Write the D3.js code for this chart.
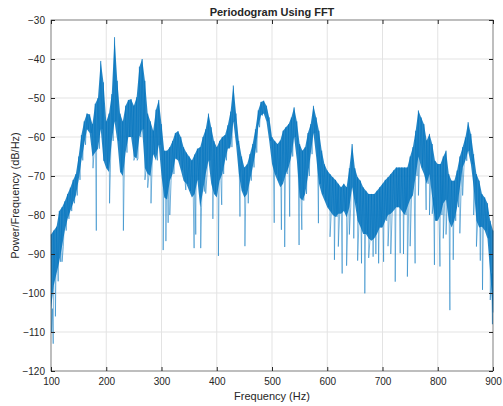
<!DOCTYPE html>
<html>
<head>
<meta charset="utf-8">
<script src="https://cdn.jsdelivr.net/npm/d3@7"></script>
<style>
  body { margin: 0; background: #fff; }
  text { font-family: Helvetica, Arial, "Liberation Sans", sans-serif; fill: #262626; }
  .tick line { stroke: #262626; }
</style>
</head>
<body>
<div id="chart"></div>
<script>
var svgWidth = 503;
var svgHeight = 406;

var margin = { top: 20, right: 10, bottom: 35, left: 51 };
var width = svgWidth - margin.left - margin.right;
var height = svgHeight - margin.top - margin.bottom;

// frequency bins (Hz), every 5 Hz from 100 to 900
var freqStart = 100;
var freqStep = 5;

// upper edge of the dense trace in each bin (dB/Hz)
var hiDb = [
  -85, -84, -83, -79, -78, -76.5, -74.6, -73, -71, -69.5,
  -65, -59.5, -56, -54, -54.2, -56.7, -51.5, -50, -40.5, -46,
  -56, -54, -49, -34.4, -45.6, -54, -56, -52, -50.5, -50.3,
  -52, -49.8, -42, -40, -45.6, -54, -56, -58.4, -53, -50.5,
  -56.7, -63.5, -63.5, -62.6, -61, -59, -58.5, -60, -62.6, -64,
  -65, -66, -64.5, -63, -62.6, -60, -58, -54, -57.5, -61,
  -62.6, -61, -60, -59.5, -57, -53.5, -46.8, -54, -61, -65,
  -67.8, -67, -64.4, -61.8, -58, -53.2, -51, -50.7, -52, -55,
  -60, -61, -61.8, -60.9, -58.4, -57.5, -56.7, -55, -52.4, -56,
  -61.8, -63.5, -62.6, -59, -56.7, -52, -55, -58.4, -63.5, -67,
  -68.6, -69.5, -70.3, -71, -72, -72.9, -72, -72.9, -68, -61.8,
  -68, -70.3, -71.2, -72.9, -73.8, -74.6, -74.6, -74.6, -73.8, -72.9,
  -72, -71, -70.3, -69.5, -68.6, -67.8, -67.8, -67.8, -67.8, -67.8,
  -65, -62.6, -58.4, -53.2, -55, -56.7, -60.9, -59.2, -61.8, -66.1,
  -66.9, -66.9, -65, -63.5, -69.5, -71.2, -71.2, -68.6, -65, -62.6,
  -60.1, -56.2, -59.2, -64.4, -69.5, -71.2, -74.6, -75.5, -77, -81.5,
  -84
];

// lower edge of the dense trace in each bin (dB/Hz)
var loDb = [
  -104, -98, -95, -92, -88, -84, -81, -79, -77, -75,
  -71, -66, -62, -58, -59, -65, -64, -63, -58, -66,
  -68, -69, -61, -56, -61, -69, -70, -64, -60, -60,
  -65, -65.5, -60, -58, -68, -69.5, -70, -64.4, -66, -62,
  -70, -75.5, -76, -71.2, -69.5, -65.5, -66, -68.5, -71.2, -72,
  -73.8, -75.5, -74.6, -71, -78, -74, -69.5, -66, -72, -74.6,
  -75.5, -71.2, -69.5, -66, -63, -62.6, -56, -62, -69.5, -73.8,
  -75.5, -74.6, -71.2, -67.8, -64, -57.5, -54.5, -54, -56, -61,
  -66.9, -69.5, -71.2, -72.9, -72, -69.5, -67.8, -65, -60, -66,
  -75.5, -76.3, -74.6, -70, -64.4, -59, -65.2, -72, -74.6, -76.3,
  -78, -79, -80, -80.5, -79.7, -79.7, -79, -80.6, -78, -72.9,
  -77, -81.5, -83, -84.9, -84.9, -86, -86.6, -86, -84.9, -83.2,
  -83.2, -81.5, -80, -79.7, -78.9, -78, -78, -79, -80, -78,
  -76, -75, -70, -65, -67.8, -69.5, -72, -69.5, -75.5, -81.5,
  -81.5, -80, -77, -76, -81.5, -83.2, -81.5, -78, -73, -67.8,
  -66.1, -63.5, -67, -72.9, -81.5, -83.2, -83, -84, -86, -95,
  -105
];

// single dips below the band
var dipFreq = [101, 104, 108, 113, 120, 176, 182, 195, 206, 231, 250, 256, 270, 275, 281,
  303, 308, 312, 315, 344, 359, 362, 371, 380, 393, 403, 409, 442, 451, 457,
  504, 517, 523, 532, 549, 554, 584, 605, 613, 620, 627, 635, 640, 648, 655, 662, 668, 675,
  683, 688, 693, 702, 710, 715, 723, 732, 738, 745, 750, 759, 765, 779, 785, 790, 794, 804,
  810, 815, 822, 828, 840, 845, 865, 870, 877, 881, 895, 899];
var dipDb = [-110, -113, -106, -97, -92, -68, -84, -66, -77, -84, -66, -66, -71, -73, -77,
  -89, -86.7, -82, -80, -73.6, -88.5, -85, -88.5, -74.5, -81, -90.5, -77.4, -80.4, -88, -77,
  -82, -83.8, -88.2, -80.4, -87.7, -83.8, -82.1, -85.6, -91.5, -88.1, -95, -93, -85, -86, -91.7, -92.4, -100.1, -91,
  -90.7, -90, -92.4, -92, -88, -90, -97.1, -89.8, -90, -95.8, -88, -92.4, -75, -78.7, -80, -79.7, -92.8, -93.2,
  -86, -85, -104.4, -91.5, -84.7, -75, -80, -88.1, -91.7, -99.2, -101.8, -108];

var xTicks = [100, 200, 300, 400, 500, 600, 700, 800, 900];
var yTicks = [-120, -110, -100, -90, -80, -70, -60, -50, -40, -30];

var svg = d3.select("#chart")
  .append("svg")
  .attr("width", svgWidth)
  .attr("height", svgHeight);

var chartGroup = svg.append("g")
  .attr("transform", `translate(${margin.left}, ${margin.top})`);

var xScale = d3.scaleLinear().domain([100, 900]).range([0, width]);
var yScale = d3.scaleLinear().domain([-120, -30]).range([height, 0]);

// grid
chartGroup.append("g").selectAll("line")
  .data(xTicks.slice(1, -1))
  .enter().append("line")
  .attr("x1", d => xScale(d)).attr("x2", d => xScale(d))
  .attr("y1", 0).attr("y2", height)
  .attr("stroke", "#e3e3e3");
chartGroup.append("g").selectAll("line")
  .data(yTicks.slice(1, -1))
  .enter().append("line")
  .attr("y1", d => yScale(d)).attr("y2", d => yScale(d))
  .attr("x1", 0).attr("x2", width)
  .attr("stroke", "#e3e3e3");

var bins = hiDb.map((v, i) => ({ f: freqStart + i * freqStep, hi: v, lo: loDb[i] }));

// dense band
var band = d3.area()
  .x(d => xScale(d.f))
  .y0(d => yScale(d.lo))
  .y1(d => yScale(d.hi));

chartGroup.append("path")
  .datum(bins)
  .attr("fill", "#0072BD")
  .attr("fill-opacity", 0.85)
  .attr("d", band);

// jagged trace: top and bottom of each bin alternately, plus single dips
var points = [];
bins.forEach(function(b, i) {
  points.push([b.f, b.hi]);
  if (i < bins.length - 1) points.push([b.f + freqStep / 2, b.lo]);
  else points.push([b.f, b.lo]);
});
dipFreq.forEach(function(f, i) { points.push([f, dipDb[i]]); });
points.sort((a, b) => a[0] - b[0]);

var line = d3.line()
  .x(d => xScale(d[0]))
  .y(d => yScale(d[1]));

chartGroup.append("path")
  .datum(points)
  .attr("fill", "none")
  .attr("stroke", "#0072BD")
  .attr("stroke-opacity", 0.7)
  .attr("stroke-width", 0.7)
  .attr("d", line);

// axes, ticks pointing inward
var bottomAxis = d3.axisBottom(xScale).tickValues(xTicks).tickSize(-4).tickPadding(7);
var leftAxis = d3.axisLeft(yScale).tickValues(yTicks).tickSize(-4).tickPadding(6);
var topAxis = d3.axisTop(xScale).tickValues(xTicks).tickSize(-4).tickFormat("");
var rightAxis = d3.axisRight(yScale).tickValues(yTicks).tickSize(-4).tickFormat("");

[
  [bottomAxis, `translate(0, ${height})`],
  [leftAxis, null],
  [topAxis, null],
  [rightAxis, `translate(${width}, 0)`]
].forEach(function(a) {
  var g = chartGroup.append("g").call(a[0]);
  if (a[1]) g.attr("transform", a[1]);
  g.select(".domain").remove();
  g.selectAll("text").attr("font-size", 10).style("fill", "#262626");
});

chartGroup.append("rect")
  .attr("width", width)
  .attr("height", height)
  .attr("fill", "none")
  .attr("stroke", "#262626")
  .attr("stroke-width", 0.6);

chartGroup.append("text")
  .attr("x", width / 2)
  .attr("y", -4)
  .attr("text-anchor", "middle")
  .attr("font-size", 11)
  .attr("font-weight", "bold")
  .text("Periodogram Using FFT");

chartGroup.append("text")
  .attr("x", width / 2)
  .attr("y", height + 29)
  .attr("text-anchor", "middle")
  .attr("font-size", 11)
  .text("Frequency (Hz)");

chartGroup.append("text")
  .attr("transform", "rotate(-90)")
  .attr("x", -height / 2)
  .attr("y", -margin.left + 19)
  .attr("text-anchor", "middle")
  .attr("font-size", 11)
  .text("Power/Frequency (dB/Hz)");
</script>
</body>
</html>
